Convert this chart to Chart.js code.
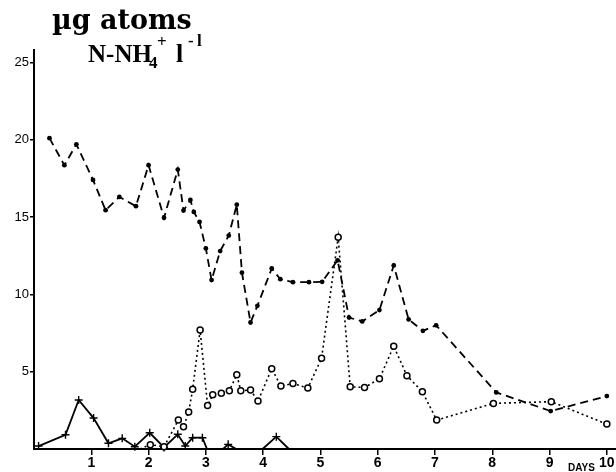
<!DOCTYPE html>
<html>
<head>
<meta charset="utf-8">
<script src="https://cdn.jsdelivr.net/npm/chart.js@4/dist/chart.umd.min.js"></script>
<style>
  html, body { margin: 0; padding: 0; background: #fff; }
  #wrap { position: relative; width: 616px; height: 472px; }
</style>
</head>
<body>
<div id="wrap"><canvas id="c" width="616" height="472"></canvas></div>
<script>
// ---- Data ----
// Series 1: filled dots, dashed line
const dotDays = [0.27,0.53,0.74,1.03,1.25,1.49,1.78,2.0,2.27,2.51,2.61,2.73,2.79,2.89,3.0,3.10,3.25,3.40,3.54,3.63,3.78,3.90,4.15,4.30,4.52,4.80,5.03,5.30,5.50,5.73,6.03,6.28,6.54,6.79,7.02,8.07,9.02,10.0];
const dotValues = [20.1,18.35,19.7,17.4,15.44,16.3,15.7,18.35,14.95,18.07,15.42,16.1,15.33,14.68,12.97,10.92,12.8,13.8,15.8,11.4,8.18,9.26,11.67,10.98,10.79,10.79,10.81,12.2,8.5,8.25,8.98,11.87,8.38,7.64,8.0,3.66,2.45,3.42];

// Series 2: open circles, dotted line
const circleDays = [1.85,2.03,2.27,2.52,2.61,2.70,2.77,2.90,3.03,3.12,3.27,3.41,3.54,3.61,3.78,3.91,4.15,4.31,4.52,4.78,5.02,5.31,5.52,5.77,6.03,6.28,6.51,6.78,7.03,8.02,9.03,10.0];
const circleValues = [0,0.28,0.15,1.87,1.44,2.39,3.86,7.69,2.82,3.51,3.6,3.77,4.8,3.77,3.81,3.1,5.19,4.07,4.24,3.94,5.86,13.7,4.02,3.98,4.54,6.65,4.74,3.70,1.87,2.95,3.06,1.61];

// Series 3: crosses, solid line
const crossDays = [0.08,0.55,0.78,1.04,1.30,1.54,1.76,2.02,2.27,2.51,2.64,2.77,2.94,3.02,3.30,3.39,3.53,3.99,4.23,4.45];
const crossValues = [0.19,0.92,3.17,2.0,0.37,0.69,0.15,1.05,0.1,0.95,0.19,0.73,0.73,0,0,0.3,0,0,0.8,0];

// Tick labels
const xTicks = [1,2,3,4,5,6,7,8,9,10];
const yTicks = [5,10,15,20,25];

const titleLine1 = "µg atoms";
const xUnit = "DAYS";

function pts(xs, ys) { return xs.map((x, i) => ({ x: x, y: ys[i] })); }

const titlePlugin = {
  id: 'titleText',
  afterLayout(chart) {
    // let the plot area run to the right edge of the canvas, as in the reference
    const a = chart.chartArea;
    const xs = chart.scales.x;
    const W = chart.width;
    a.right = W; a.width = a.right - a.left;
    xs.right = W; xs.width = xs.right - xs.left;
    xs.configure();
  },
  afterDraw(chart) {
    const ctx = chart.ctx;
    ctx.save();
    ctx.fillStyle = '#000';
    ctx.textBaseline = 'alphabetic';
    ctx.textAlign = 'left';
    ctx.font = 'bold 27px "DejaVu Serif"';
    ctx.fillText(titleLine1, 52, 29);
    ctx.font = 'bold 25px "Liberation Serif"';
    ctx.fillText('N-NH', 88, 62);
    ctx.font = 'bold 17px "Liberation Serif"';
    ctx.fillText('4', 149, 68);
    ctx.fillText('+', 157, 47);
    ctx.font = 'bold 26px "Liberation Serif"';
    ctx.fillText('l', 176, 62);
    ctx.font = 'bold 17px "Liberation Serif"';
    ctx.fillText('-', 188, 46);
    ctx.fillText('l', 197, 46);
    ctx.font = 'bold 10px "Liberation Sans"';
    ctx.fillText(xUnit, 568, 471);
    ctx.restore();
  }
};

new Chart(document.getElementById('c'), {
  type: 'line',
  data: {
    datasets: [
      {
        label: 'dots',
        data: pts(dotDays, dotValues),
        borderColor: '#000',
        borderWidth: 1.8,
        borderDash: [8, 5],
        pointStyle: 'circle',
        pointRadius: 2.4,
        pointBackgroundColor: '#000',
        pointBorderColor: '#000',
        pointBorderWidth: 0,
        tension: 0,
        clip: false
      },
      {
        label: 'circles',
        data: pts(circleDays, circleValues),
        borderColor: '#000',
        borderWidth: 1.6,
        borderDash: [2, 3],
        pointStyle: 'circle',
        pointRadius: (c) => c.dataIndex === 0 ? 0 : 3,
        pointBackgroundColor: '#fff',
        pointBorderColor: '#000',
        pointBorderWidth: 1.5,
        tension: 0,
        clip: false
      },
      {
        label: 'crosses',
        data: pts(crossDays, crossValues),
        borderColor: '#000',
        borderWidth: 1.8,
        pointStyle: 'cross',
        pointRadius: (c) => (c.raw && c.raw.y === 0) ? 0 : 4,
        pointBorderColor: '#000',
        pointBorderWidth: 1.4,
        tension: 0,
        clip: false
      }
    ]
  },
  options: {
    responsive: false,
    animation: false,
    layout: { padding: { top: 50, right: 0, left: 0, bottom: 0 } },
    plugins: { legend: { display: false }, tooltip: { enabled: false }, title: { display: false } },
    scales: {
      x: {
        type: 'linear',
        min: 0,
        max: 10.16,
        afterBuildTicks: (s) => { s.ticks = xTicks.map(v => ({ value: v })); },
        afterFit: (s) => { s.height = 23; s.paddingLeft = 0; s.paddingRight = 0; },
        border: { display: true, color: '#000', width: 2 },
        grid: { display: true, drawOnChartArea: false, drawTicks: true, tickLength: 6, color: '#000', lineWidth: 1.5 },
        ticks: {
          color: '#000',
          padding: 0,
          maxRotation: 0,
          autoSkip: false,
          font: { family: '"Liberation Sans"', size: 14, weight: 'bold' },
          callback: (v) => String(v)
        }
      },
      y: {
        type: 'linear',
        min: 0,
        max: 25.8,
        afterBuildTicks: (s) => { s.ticks = yTicks.map(v => ({ value: v })); },
        afterFit: (s) => { s.width = 34; s.paddingTop = 0; s.paddingBottom = 0; },
        border: { display: true, color: '#000', width: 2 },
        grid: { display: true, drawOnChartArea: false, drawTicks: true, tickLength: 4, color: '#000', lineWidth: 1.5 },
        ticks: {
          color: '#000',
          padding: 1,
          autoSkip: false,
          font: { family: '"Liberation Sans"', size: 13 },
          callback: (v) => String(v)
        }
      }
    }
  },
  plugins: [titlePlugin]
});
</script>
</body>
</html>
